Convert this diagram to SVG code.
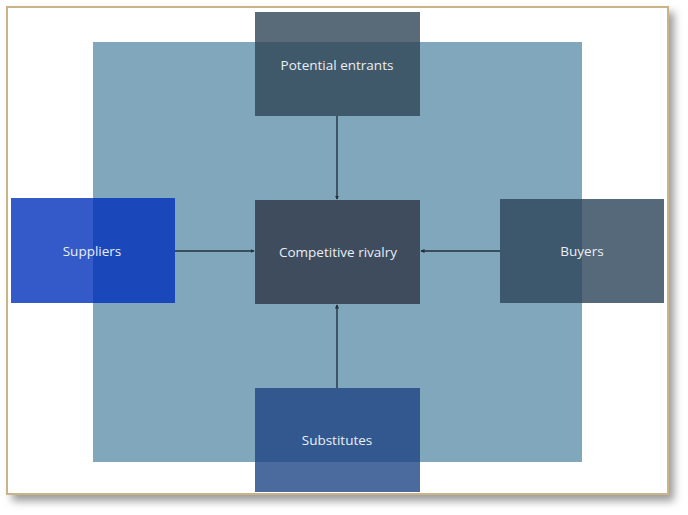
<svg xmlns="http://www.w3.org/2000/svg" width="688" height="515" viewBox="0 0 688 515">
<defs>
<style>
.lbl{font-family:"Open Sans","Liberation Sans",sans-serif;font-size:13.5px;fill:#e9eff4;text-anchor:middle;dominant-baseline:central}
.edge{stroke:#24313d;stroke-width:1.4;fill:none;marker-end:url(#ah)}
</style>
<marker id="ah" viewBox="0 0 6 6" refX="5" refY="3" markerWidth="3" markerHeight="3" orient="auto">
<path d="M0,0 L6,3 L0,6 Z" fill="#24313d"/>
</marker>
<filter id="sh" x="-10%" y="-10%" width="120%" height="120%">
<feGaussianBlur stdDeviation="4"/>
</filter>
</defs>
<rect width="688" height="515" fill="#ffffff"/>
<rect x="12" y="12" width="662" height="489" fill="#9a9a9a" filter="url(#sh)"/>
<rect x="7" y="7" width="661" height="487" fill="#ffffff" stroke="#c8b486" stroke-width="2"/>
<rect id="bg" x="93" y="42" width="489" height="420" fill="#80a7bb"/>
<g id="connectors">
<path class="edge" d="M337,116 V199"/>
<path class="edge" d="M175,251 H254"/>
<path class="edge" d="M500,251 H421"/>
<path class="edge" d="M337,388 V305"/>
</g>
<g id="rivalry">
<rect x="255" y="200" width="165" height="104" fill="#3e4c5e"/>
<text class="lbl" x="338" y="252">Competitive rivalry</text>
</g>
<g id="entrants">
<rect x="255" y="12" width="165" height="104" fill="#304656" fill-opacity="0.8"/>
<text class="lbl" x="337" y="65">Potential entrants</text>
</g>
<g id="suppliers">
<rect x="11" y="198" width="164" height="105" fill="#0031ba" fill-opacity="0.8"/>
<text class="lbl" x="92" y="251">Suppliers</text>
</g>
<g id="buyers">
<rect x="500" y="199" width="164" height="104" fill="#2c4359" fill-opacity="0.8"/>
<text class="lbl" x="582" y="251">Buyers</text>
</g>
<g id="substitutes">
<rect x="255" y="388" width="165" height="104" fill="#1e4584" fill-opacity="0.8"/>
<text class="lbl" x="337" y="440">Substitutes</text>
</g>
</svg>
